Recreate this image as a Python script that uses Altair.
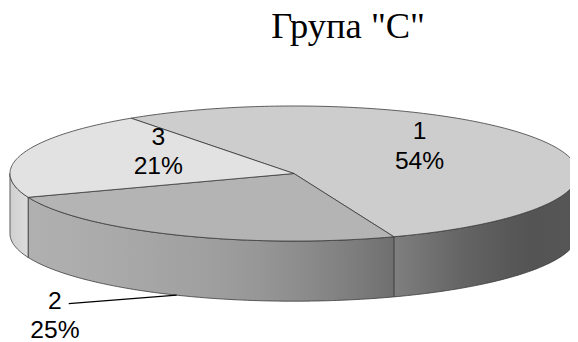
import numpy as np
import pandas as pd
import altair as alt

# ---- data ----
categories = ["1", "2", "3"]
shares = [54, 25, 21]

# ---- style ----
top_colors = ["#cdcdcd", "#b4b4b4", "#e2e2e2"]
label_outside = [False, True, False]
START_DEG = -35.0          # rotation of first slice (clockwise from 12 o'clock)
TILT = 68.5 / 288.0        # vertical squash of the pie top
DEPTH = 61.0 / 288.0       # thickness of the pie
EDGE = "#3a3a3a"

# page -> scene mapping (scene unit = pie radius)
CX, CY, R = 298.0, 173.5, 288.0
VIEW_LEFT, VIEW_TOP, W, H = 8.0, 64.0, 570, 278
x_dom = [(VIEW_LEFT - CX) / R, (VIEW_LEFT + W - CX) / R]
y_dom = [(VIEW_TOP - CY) / R, (VIEW_TOP + H - CY) / R]
xs = alt.Scale(domain=x_dom, nice=False, zero=False)
ys = alt.Scale(domain=y_dom, nice=False, zero=False, reverse=True)

# side lighting as a function of scene x
light_x = [(p - CX) / R for p in [10, 20, 30, 100, 200, 280, 350, 420, 480, 535, 600]]
light_f = [0.92, 0.95, 0.98, 0.95, 0.895, 0.82, 0.71, 0.58, 0.47, 0.41, 0.42]


def rim(t_deg, drop=0.0):
    t = np.radians(t_deg)
    return np.sin(t), -np.cos(t) * TILT + drop


def shade(hexcol, f):
    v = int(hexcol[1:3], 16)
    g = max(0, min(255, int(round(v * f))))
    return "#%02x%02x%02x" % (g, g, g)


def arc_pts(t1, t2, drop=0.0):
    n = max(2, int(abs(t2 - t1)) + 1)
    ts = np.linspace(t1, t2, n)
    return [rim(t, drop) for t in ts]


total = float(sum(shares))
cum = np.cumsum([0] + shares) / total
starts = START_DEG + cum[:-1] * 360.0
ends = START_DEG + cum[1:] * 360.0

layers = []

# front sides
for i, cat in enumerate(categories):
    for k in (-1, 0, 1):
        a1 = max(starts[i], 90 + 360 * k)
        a2 = min(ends[i], 270 + 360 * k)
        if a2 - a1 <= 0.01:
            continue
        pts = arc_pts(a1, a2) + arc_pts(a2, a1, DEPTH)
        pts.append(pts[0])
        df = pd.DataFrame({"x": [p[0] for p in pts], "y": [p[1] for p in pts],
                           "i": list(range(len(pts)))})
        xa, xb = min(df.x), max(df.x)
        stops = []
        for o in np.linspace(0, 1, 9):
            xv = xa + o * (xb - xa)
            stops.append({"offset": float(o),
                          "color": shade(top_colors[i], float(np.interp(xv, light_x, light_f)))})
        grad = {"gradient": "linear", "x1": 0, "y1": 0, "x2": 1, "y2": 0, "stops": stops}
        layers.append(
            alt.Chart(df).mark_line(fill=grad, stroke=EDGE, strokeWidth=0.8, clip=True)
            .encode(x=alt.X("x:Q", scale=xs, axis=None),
                    y=alt.Y("y:Q", scale=ys, axis=None),
                    order="i:Q")
        )

# top faces
for i, cat in enumerate(categories):
    pts = [(0.0, 0.0)] + arc_pts(starts[i], ends[i]) + [(0.0, 0.0)]
    df = pd.DataFrame({"x": [p[0] for p in pts], "y": [p[1] for p in pts],
                       "i": list(range(len(pts)))})
    layers.append(
        alt.Chart(df).mark_line(fill=top_colors[i], stroke=EDGE, strokeWidth=0.8, clip=True)
        .encode(x=alt.X("x:Q", scale=xs, axis=None),
                y=alt.Y("y:Q", scale=ys, axis=None),
                order="i:Q")
    )

# labels
mids = (starts + ends) / 2.0
inside_rows, out_rows, lead_rows = [], [], []
for i, cat in enumerate(categories):
    text = f"{cat}\n{shares[i]}%"
    if label_outside[i]:
        px, py = rim(mids[i], DEPTH)
        ex, ey = px - 0.38, py + 0.03
        lead_rows.append({"x": px, "y": py, "x2": ex, "y2": ey})
        out_rows.append({"x": ex, "y": ey, "label": text})
    else:
        tx, ty = rim(mids[i])
        inside_rows.append({"x": tx * 0.5, "y": ty * 0.5, "label": text})

text_style = dict(font="Liberation Sans", fontSize=25, lineHeight=30, lineBreak="\n",
                  align="center", baseline="middle", color="black")

layers.append(
    alt.Chart(pd.DataFrame(inside_rows)).mark_text(dy=-27, **text_style)
    .encode(x=alt.X("x:Q", scale=xs, axis=None), y=alt.Y("y:Q", scale=ys, axis=None),
            text="label:N")
)
layers.append(
    alt.Chart(pd.DataFrame(lead_rows)).mark_rule(color="black", strokeWidth=1.2)
    .encode(x=alt.X("x:Q", scale=xs, axis=None), y=alt.Y("y:Q", scale=ys, axis=None),
            x2="x2:Q", y2="y2:Q")
)
layers.append(
    alt.Chart(pd.DataFrame(out_rows)).mark_text(dx=-14, dy=-3, **text_style)
    .encode(x=alt.X("x:Q", scale=xs, axis=None), y=alt.Y("y:Q", scale=ys, axis=None),
            text="label:N")
)

chart = alt.layer(*layers).properties(
    width=W, height=H,
    background="white",
    title=alt.TitleParams(text='Група "С"', font="Liberation Serif", fontSize=37,
                          fontWeight="normal", color="black", anchor="middle",
                          dx=60, offset=-9, baseline="alphabetic"),
    autosize=alt.AutoSizeParams(type="none"),
    padding={"left": 0, "top": 56, "right": 0, "bottom": 0},
).configure_view(strokeWidth=0)

chart.save("out.html", embed_options={"renderer": "svg", "actions": False})
